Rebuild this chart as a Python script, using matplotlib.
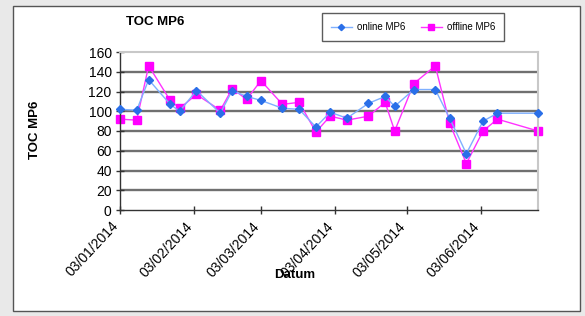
import matplotlib
matplotlib.use("Agg")
import matplotlib.pyplot as plt
import matplotlib.dates as mdates
import matplotlib.transforms as mtransforms
from matplotlib.patches import Rectangle
import numpy as np

plt.rcParams['font.family'] = ['Liberation Sans', 'DejaVu Sans']

# Messdaten TOC MP6
datum = ["2014-01-03", "2014-01-10", "2014-01-15", "2014-01-24", "2014-01-28",
         "2014-02-04", "2014-02-14", "2014-02-19", "2014-02-25", "2014-03-03",
         "2014-03-12", "2014-03-19", "2014-03-26", "2014-04-01", "2014-04-08",
         "2014-04-17", "2014-04-24", "2014-04-28", "2014-05-06", "2014-05-15",
         "2014-05-21", "2014-05-28", "2014-06-04", "2014-06-10", "2014-06-27"]
online = [102, 101, 132, 107, 100, 121, 98, 121, 115, 111,
          103, 102, 84, 99, 93, 108, 115, 105, 122, 122,
          93, 57, 90, 98, 98]
offline = [92, 91, 146, 111, 103, 117, 101, 123, 112, 131,
           107, 109, 79, 95, 91, 95, 109, 80, 128, 146,
           88, 47, 80, 92, 80]
tick_dates = ["2014-01-03", "2014-02-03", "2014-03-03", "2014-04-03", "2014-05-03", "2014-06-03"]

x = np.array(datum, dtype="datetime64[D]")
ticks = np.array(tick_dates, dtype="datetime64[D]")

fig = plt.figure(figsize=(5.85, 3.16), dpi=100)
fig.patch.set_facecolor("#e9e9e9")
# Rahmen des Diagramms
fig.patches.append(Rectangle((13/585, 5/316), 567/585, 305/316, transform=fig.transFigure,
                             facecolor="white", edgecolor="#555555", lw=1.0, zorder=-5))

ax = fig.add_axes([120/585, 106/316, 418/585, 158/316])
ax.set_zorder(2)
ax.set_facecolor("white")

ax.plot(x, online, color="#7fb0ff", lw=1.0, marker="D", markersize=4,
        markerfacecolor="#2a6fe8", markeredgecolor="#2a6fe8", label="online MP6",
        zorder=3, clip_on=False)
ax.plot(x, offline, color="#ff33ff", lw=1.0, marker="s", markersize=6,
        markerfacecolor="#ff00ff", markeredgecolor="#ff00ff", label="offline MP6",
        zorder=2, clip_on=False)

ax.set_ylim(0, 160)
ax.set_yticks(np.arange(0, 161, 20))
ax.set_xlim(x[0], x[-1])
ax.set_xticks(ticks)
ax.xaxis.set_major_formatter(mdates.DateFormatter("%d/%m/%Y"))

for yv in range(20, 160, 20):
    ax.axhline(yv, color="#707070", lw=1.7, zorder=1)

for s in ["top", "right"]:
    ax.spines[s].set_color("#c8c8c8")
    ax.spines[s].set_linewidth(1.5)
for s in ["left", "bottom"]:
    ax.spines[s].set_color("#333333")
    ax.spines[s].set_linewidth(1.0)

ax.tick_params(axis="both", direction="inout", length=6, width=1, color="#333333", labelsize=10)
ax.tick_params(axis="y", pad=3)
shift = mtransforms.ScaledTranslation(-9/100, 0, fig.dpi_scale_trans)
for lbl in ax.get_xticklabels():
    lbl.set_rotation(47)
    lbl.set_ha("right")
    lbl.set_rotation_mode("anchor")
    lbl.set_transform(lbl.get_transform() + shift)

fig.text(155/585, 1 - 22/316, "TOC MP6", fontsize=9.5, fontweight="bold", ha="center", va="center")
fig.text(35/585, 1 - 130/316, "TOC MP6", fontsize=9.5, fontweight="bold", ha="center", va="center",
         rotation=90)
fig.text(295/585, 1 - 275/316, "Datum", fontsize=9.5, fontweight="bold", ha="center", va="center")

leg = fig.legend(loc="center", bbox_to_anchor=(413/585, 1 - 27/316), ncol=2, fontsize=7,
                 frameon=True, fancybox=False, handlelength=2.2, columnspacing=1.6,
                 markerscale=0.8, borderpad=0.9, handletextpad=0.5)
leg.get_frame().set_edgecolor("#333333")
leg.get_frame().set_linewidth(1.0)

fig.savefig("out.png", dpi=100, facecolor=fig.get_facecolor())
